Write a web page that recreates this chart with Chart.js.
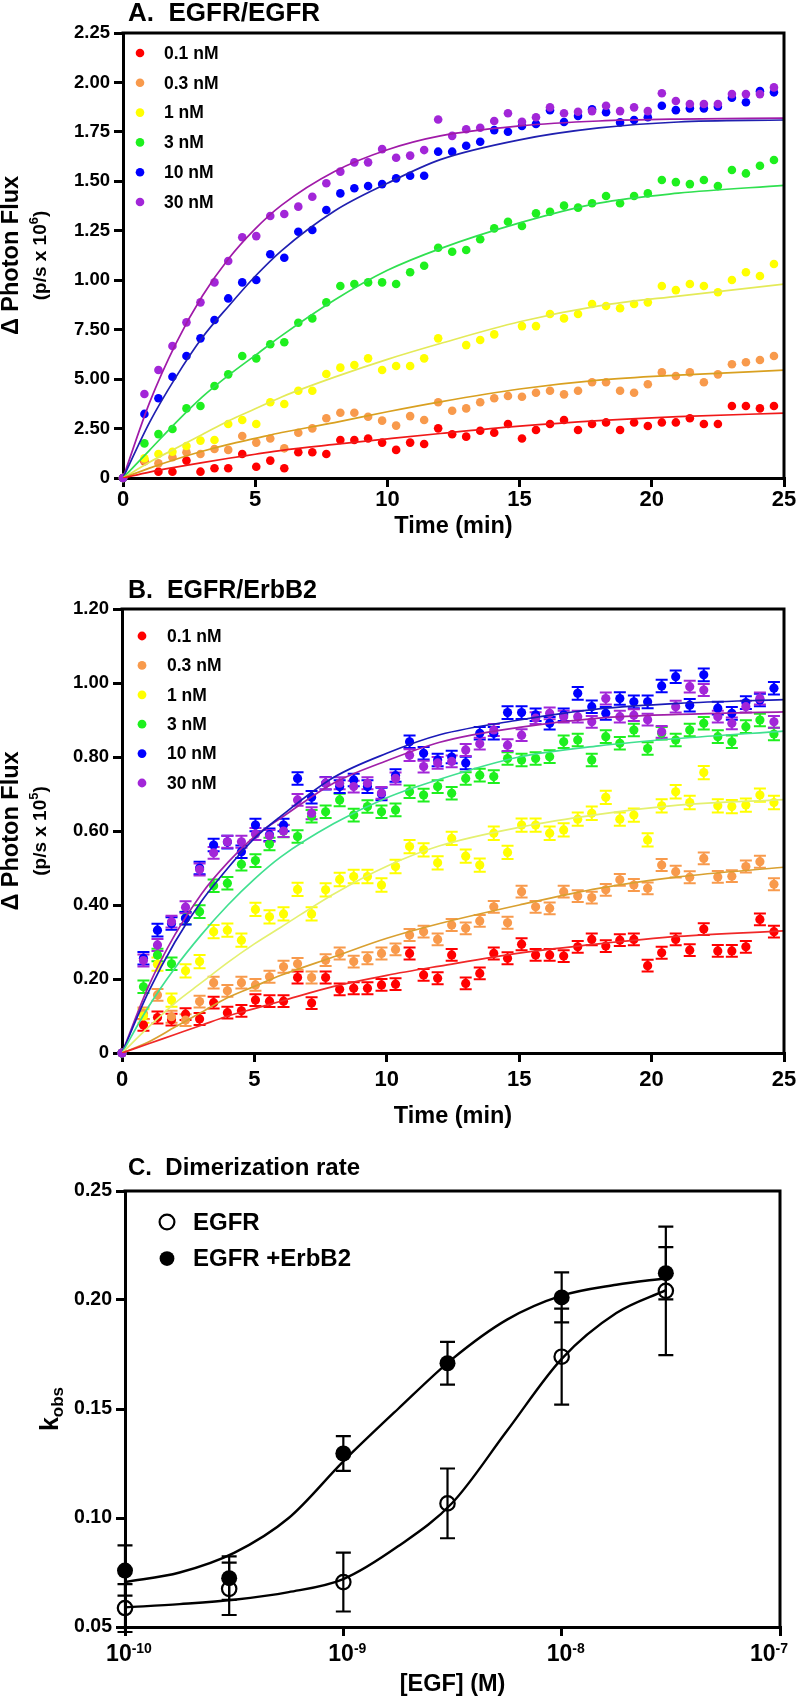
<!DOCTYPE html>
<html>
<head>
<meta charset="utf-8">
<title>EGFR dimerization kinetics</title>
<script src="https://cdn.jsdelivr.net/npm/chart.js@4.4.1/dist/chart.umd.min.js"></script>
<style>
  html, body { margin: 0; padding: 0; background: #fff; }
  body { width: 798px; height: 1698px; position: relative; overflow: hidden; }
  canvas { position: absolute; left: 0; }
</style>
</head>
<body>
<canvas id="panelA" width="798" height="545" style="top:0"></canvas>
<canvas id="panelB" width="798" height="585" style="top:545px"></canvas>
<canvas id="panelC" width="798" height="568" style="top:1130px"></canvas>
<script>
// ============================================
// Data
// ============================================

// sampling times (min) shared by panels A and B, first entry is the t = 0 reading
const timeMin = [0, 0.81, 1.34, 1.87, 2.40, 2.93, 3.46, 3.98, 4.51, 5.04, 5.57, 6.10, 6.63, 7.16, 7.69, 8.22, 8.75,
  9.27, 9.80, 10.33, 10.86, 11.39, 11.92, 12.45, 12.98, 13.51, 14.04, 14.56, 15.09, 15.62, 16.15, 16.68, 17.21,
  17.74, 18.27, 18.80, 19.33, 19.85, 20.38, 20.91, 21.44, 21.97, 22.50, 23.03, 23.56, 24.09, 24.62];

const concLabels = ['0.1 nM', '0.3 nM', '1 nM', '3 nM', '10 nM', '30 nM'];

// A. EGFR/EGFR, photon flux (p/s x 10^6)
const aFlux01 = [0, 0.085, 0.032, 0.032, 0.088, 0.032, 0.049, 0.049, 0.121, 0.057, 0.088, 0.049, 0.13, 0.13, 0.121,
  0.192, 0.192, 0.2, 0.179, 0.142, 0.179, 0.172, 0.251, 0.221, 0.209, 0.239, 0.229, 0.273, 0.2, 0.243, 0.273, 0.293,
  0.243, 0.273, 0.281, 0.243, 0.281, 0.263, 0.281, 0.281, 0.302, 0.273, 0.273, 0.364, 0.364, 0.352, 0.364];
const aFlux03 = [0, 0.088, 0.074, 0.105, 0.13, 0.121, 0.147, 0.142, 0.212, 0.179, 0.2, 0.15, 0.229, 0.251, 0.302,
  0.33, 0.33, 0.31, 0.29, 0.265, 0.313, 0.293, 0.383, 0.34, 0.352, 0.383, 0.403, 0.415, 0.411, 0.431, 0.441, 0.423,
  0.441, 0.484, 0.484, 0.441, 0.431, 0.474, 0.534, 0.516, 0.534, 0.484, 0.524, 0.575, 0.585, 0.597, 0.617];
const aFlux1 = [0, 0.1, 0.121, 0.133, 0.162, 0.189, 0.192, 0.273, 0.293, 0.273, 0.383, 0.374, 0.441, 0.441, 0.526,
  0.558, 0.571, 0.605, 0.546, 0.566, 0.566, 0.605, 0.706, null, 0.672, 0.698, 0.726, null, 0.768, 0.768, 0.829,
  0.807, 0.829, 0.88, 0.87, 0.858, 0.88, 0.888, 0.971, 0.95, 0.981, 0.971, 0.939, 1.001, 1.04, 1.021, 1.082];
const aFlux3 = [0, 0.175, 0.222, 0.248, 0.352, 0.364, 0.465, 0.524, 0.617, 0.605, 0.676, 0.686, 0.785, 0.807, 0.888,
  0.971, 0.981, 0.989, 0.989, 0.981, 1.04, 1.073, 1.164, 1.144, 1.153, 1.207, 1.262, 1.296, 1.274, 1.338, 1.346,
  1.377, 1.367, 1.389, 1.426, 1.389, 1.426, 1.439, 1.507, 1.496, 1.486, 1.507, 1.476, 1.557, 1.54, 1.579, 1.608];
const aFlux10 = [0, 0.324, 0.403, 0.512, 0.617, 0.706, 0.799, 0.908, 0.989, 1.001, 1.131, 1.114, 1.245, 1.254, 1.355,
  1.439, 1.465, 1.476, 1.486, 1.515, 1.528, 1.528, 1.65, 1.65, 1.68, 1.70, 1.759, 1.751, 1.78, 1.79, 1.86, 1.80,
  1.83, 1.864, 1.849, 1.798, 1.81, 1.824, 1.882, 1.86, 1.869, 1.869, 1.877, 1.923, 1.90, 1.956, 1.95];
const aFlux30 = [0, 0.425, 0.546, 0.667, 0.787, 0.888, 0.989, 1.097, 1.217, 1.223, 1.325, 1.335, 1.372, 1.422, 1.49,
  1.549, 1.596, 1.596, 1.663, 1.619, 1.63, 1.658, 1.813, 1.73, 1.763, 1.771, 1.805, 1.844, 1.801, 1.824, 1.874,
  1.844, 1.852, 1.855, 1.882, 1.855, 1.874, 1.855, 1.945, 1.906, 1.891, 1.891, 1.891, 1.941, 1.941, 1.941, 1.975];

// fitted curves at these times
const fitTime = [0, 1, 2, 3, 4, 5, 6, 8, 10, 12, 15, 18, 21, 25];
const aFit01 = [0, 0.03, 0.055, 0.078, 0.10, 0.12, 0.14, 0.17, 0.198, 0.225, 0.262, 0.29, 0.31, 0.328];
const aFit03 = [0, 0.05, 0.095, 0.135, 0.17, 0.20, 0.23, 0.28, 0.335, 0.385, 0.45, 0.495, 0.52, 0.545];
const aFit1 = [0, 0.08, 0.15, 0.22, 0.29, 0.35, 0.41, 0.51, 0.60, 0.68, 0.79, 0.87, 0.92, 0.98];
const aFit3 = [0, 0.14, 0.28, 0.41, 0.52, 0.62, 0.72, 0.90, 1.05, 1.16, 1.29, 1.39, 1.44, 1.48];
const aFit10 = [0, 0.28, 0.51, 0.71, 0.87, 1.02, 1.15, 1.35, 1.49, 1.61, 1.71, 1.77, 1.80, 1.81];
const aFit30 = [0, 0.38, 0.68, 0.92, 1.11, 1.26, 1.38, 1.55, 1.66, 1.73, 1.78, 1.805, 1.815, 1.82];

// the original axis really reads 2.50 / 5.00 / 7.50 below 1.00
const yTicksA = ['0', '2.50', '5.00', '7.50', '1.00', '1.25', '1.50', '1.75', '2.00', '2.25'];

// B. EGFR/ErbB2, photon flux (p/s x 10^5)
const bFlux01 = [0, 0.076, 0.096, 0.09, 0.105, 0.092, 0.136, 0.109, 0.114, 0.143, 0.14, 0.14, 0.204, 0.135, 0.204,
  0.172, 0.175, 0.175, 0.184, 0.186, 0.269, 0.211, 0.202, 0.265, 0.188, 0.215, 0.269, 0.256, 0.294, 0.265, 0.265,
  0.262, 0.287, 0.307, 0.289, 0.305, 0.307, 0.236, 0.271, 0.307, 0.278, 0.335, 0.276, 0.276, 0.287, 0.361, 0.328];
const bFlux03 = [0, 0.107, 0.157, 0.098, 0.089, 0.139, 0.19, 0.168, 0.19, 0.184, 0.206, 0.233, 0.241, 0.204, 0.251,
  0.269, 0.247, 0.256, 0.269, 0.28, 0.319, 0.328, 0.307, 0.346, 0.337, 0.357, 0.395, 0.352, 0.436, 0.395, 0.391,
  0.436, 0.424, 0.42, 0.441, 0.468, 0.454, 0.445, 0.508, 0.49, 0.475, 0.526, 0.476, 0.478, 0.504, 0.517, 0.456];
const bFlux1 = [0, 0.10, 0.24, 0.143, 0.222, 0.247, 0.328, 0.332, 0.305, 0.388, 0.368, 0.376, 0.442, 0.376, 0.441,
  0.469, 0.477, 0.477, 0.454, 0.504, 0.558, 0.549, 0.514, 0.58, 0.532, 0.508, 0.594, 0.542, 0.616, 0.616, 0.594,
  0.603, 0.632, 0.648, 0.691, 0.632, 0.643, 0.576, 0.668, 0.706, 0.677, 0.758, 0.668, 0.666, 0.67, 0.697, 0.677];
const bFlux3 = [0, 0.179, 0.265, 0.241, 0.365, 0.382, 0.452, 0.459, 0.51, 0.52, 0.565, 0.60, 0.585, 0.64, 0.652,
  0.684, 0.643, 0.666, 0.652, 0.657, 0.706, 0.697, 0.72, 0.702, 0.742, 0.751, 0.747, 0.796, 0.792, 0.796, 0.801,
  0.841, 0.846, 0.792, 0.855, 0.837, 0.873, 0.823, 0.864, 0.846, 0.873, 0.891, 0.855, 0.841, 0.882, 0.9, 0.862];
const bFlux10 = [0, 0.256, 0.332, 0.35, 0.364, 0.50, 0.562, 0.57, 0.544, 0.616, 0.59, 0.616, 0.742, 0.691, 0.729,
  0.72, 0.738, 0.72, 0.70, 0.75, 0.841, 0.81, 0.792, 0.80, 0.784, 0.864, 0.864, 0.92, 0.92, 0.914, 0.891, 0.914,
  0.972, 0.936, 0.918, 0.958, 0.949, 0.949, 0.992, 1.017, 0.94, 1.022, 0.932, 0.918, 0.947, 0.954, 0.986];
const bFlux30 = [0, 0.25, 0.292, 0.355, 0.394, 0.496, 0.541, 0.571, 0.571, 0.592, 0.587, 0.60, 0.684, 0.648, 0.729,
  0.729, 0.72, 0.729, 0.703, 0.742, 0.805, 0.774, 0.784, 0.788, 0.819, 0.836, 0.873, 0.832, 0.859, 0.905, 0.918,
  0.909, 0.909, 0.895, 0.958, 0.909, 0.913, 0.901, 0.868, 0.936, 0.99, 0.981, 0.909, 0.891, 0.936, 0.958, 0.895];
// typical SEM of each series
const bError = [0.016, 0.016, 0.018, 0.017, 0.017, 0.016];

const bFit01 = [0, 0.025, 0.05, 0.075, 0.10, 0.12, 0.14, 0.18, 0.21, 0.235, 0.27, 0.295, 0.315, 0.33];
const bFit03 = [0, 0.03, 0.07, 0.11, 0.15, 0.18, 0.21, 0.26, 0.31, 0.35, 0.40, 0.445, 0.476, 0.502];
const bFit1 = [0, 0.07, 0.135, 0.19, 0.245, 0.295, 0.34, 0.43, 0.505, 0.56, 0.61, 0.645, 0.67, 0.685];
const bFit3 = [0, 0.125, 0.23, 0.32, 0.40, 0.47, 0.53, 0.62, 0.69, 0.74, 0.80, 0.83, 0.85, 0.87];
const bFit10 = [0, 0.165, 0.30, 0.41, 0.50, 0.58, 0.64, 0.745, 0.81, 0.86, 0.90, 0.93, 0.945, 0.955];
const bFit30 = [0, 0.18, 0.32, 0.43, 0.515, 0.585, 0.635, 0.73, 0.79, 0.84, 0.88, 0.905, 0.915, 0.922];

const yTicksB = ['0', '0.20', '0.40', '0.60', '0.80', '1.00', '1.20'];

// C. Dimerization rate vs [EGF]
const egfConc = [1e-10, 3e-10, 1e-9, 3e-9, 1e-8, 3e-8];
const kobsEGFR = [0.0587, 0.0675, 0.0706, 0.1067, 0.174, 0.2042];
const errEGFR = [0.011, 0.012, 0.0135, 0.016, 0.022, 0.0295];
const kobsErbB2 = [0.0759, 0.0724, 0.1296, 0.171, 0.2012, 0.2123];
const errErbB2 = [0.0115, 0.010, 0.008, 0.0098, 0.0115, 0.012];

const fitConc = [1e-10, 1.78e-10, 3.16e-10, 5.62e-10, 1e-9, 1.78e-9, 3.16e-9, 5.62e-9, 1e-8, 1.78e-8, 3e-8];
const fitEGFR = [0.059, 0.0605, 0.0625, 0.066, 0.072, 0.087, 0.107, 0.140, 0.173, 0.194, 0.2045];
const fitErbB2 = [0.0706, 0.075, 0.084, 0.10, 0.126, 0.150, 0.173, 0.191, 0.202, 0.207, 0.210];

const yTicksC = ['0.05', '0.10', '0.15', '0.20', '0.25'];
const xTickPowers = [-10, -9, -8, -7];

// ============================================
// Styling
// ============================================
const FONT = "'Liberation Sans', Arial, Helvetica, sans-serif";
const bold = size => `bold ${size}px ${FONT}`;

const dotColors = ['#ff0000', '#f89a4c', '#ffff00', '#1ef01e', '#0000ff', '#a226d8'];
const lineColorsA = ['#f01818', '#d9a020', '#e4ea58', '#30e050', '#2020b0', '#a01aa8'];
const lineColorsB = ['#f02828', '#d9a030', '#e4f070', '#40e090', '#1a1ab8', '#a020a8'];

Chart.defaults.font.family = FONT;
Chart.defaults.color = '#000';

const pts = (xs, ys) => xs.map((x, i) => ({ x, y: ys[i] }));

const axisGrid = { drawOnChartArea: false, drawTicks: true, tickLength: 9, tickWidth: 3, tickColor: '#000', color: '#000', lineWidth: 3 };
const axisBorder = { display: true, color: '#000', width: 3 };

// text laid out left to right with mixed fonts (for superscripts), centred on cx
function richText(ctx, parts, cx, y, maxRight) {
    let w = 0;
    parts.forEach(p => { ctx.font = p.font; p.w = ctx.measureText(p.t).width; w += p.w; });
    let x = cx - w / 2;
    if (maxRight != null) x = Math.min(x, maxRight - w);
    ctx.textAlign = 'left';
    parts.forEach(p => {
        ctx.font = p.font;
        ctx.fillText(p.t, x, y + (p.dy || 0));
        x += p.w;
    });
}

/**
 * Frame, titles, in-plot legend and error bars, the parts Chart.js can't place like the figure does
 */
function decor(o) {
    return {
        id: 'decor',
        beforeDatasetsDraw(chart) {
            const { ctx } = chart;
            const yScale = chart.scales.y;
            chart.data.datasets.forEach((ds, di) => {
                if (ds.errorBars == null) return;
                const meta = chart.getDatasetMeta(di);
                ctx.save();
                ctx.strokeStyle = ds.errorColor;
                ctx.lineWidth = o.barLine;
                ctx.beginPath();
                meta.data.forEach((el, i) => {
                    const v = ds.data[i].y;
                    if (v == null) return;
                    const e = Array.isArray(ds.errorBars) ? ds.errorBars[i] : ds.errorBars;
                    if (!e || ds.data[i].x === 0) return;
                    const y1 = yScale.getPixelForValue(v + e);
                    const y2 = yScale.getPixelForValue(v - e);
                    const c = o.capHalf;
                    ctx.moveTo(el.x, y1); ctx.lineTo(el.x, y2);
                    ctx.moveTo(el.x - c, y1); ctx.lineTo(el.x + c, y1);
                    ctx.moveTo(el.x - c, y2); ctx.lineTo(el.x + c, y2);
                });
                ctx.stroke();
                ctx.restore();
            });
        },
        afterDraw(chart) {
            const { ctx, chartArea: a } = chart;
            const midX = (a.left + a.right) / 2;
            const midY = (a.top + a.bottom) / 2;
            ctx.save();

            // top and right sides of the box
            ctx.strokeStyle = '#000';
            ctx.lineWidth = 3;
            ctx.beginPath();
            ctx.moveTo(a.left - 1.5, a.top);
            ctx.lineTo(a.right, a.top);
            ctx.lineTo(a.right, a.bottom);
            ctx.stroke();

            ctx.fillStyle = '#000';
            ctx.textBaseline = 'alphabetic';
            ctx.textAlign = 'left';
            ctx.font = o.titleFont;
            ctx.fillText(o.title, 128, o.titleY);

            // legend inside the plot
            o.legend.forEach((it, i) => {
                const y = o.legendY + i * o.legendGap;
                ctx.beginPath();
                ctx.arc(o.legendX, y, o.legendR, 0, 2 * Math.PI);
                if (it.open) {
                    ctx.lineWidth = 2.2;
                    ctx.strokeStyle = '#000';
                    ctx.stroke();
                } else {
                    ctx.fillStyle = it.color;
                    ctx.fill();
                }
                ctx.fillStyle = '#000';
                ctx.font = o.legendFont;
                ctx.textBaseline = 'middle';
                ctx.textAlign = 'left';
                ctx.fillText(it.label, o.legendTextX, y + 1);
            });

            ctx.textBaseline = 'alphabetic';
            ctx.textAlign = 'center';
            ctx.font = bold(23.5);
            ctx.fillText(o.xTitle, midX, o.xTitleY);

            o.yTitles.forEach(t => {
                ctx.save();
                ctx.translate(t.x, midY + (t.dy || 0));
                ctx.rotate(-Math.PI / 2);
                richText(ctx, t.parts, 0, 0);
                ctx.restore();
            });

            // 10^n labels under the log axis, the last one pulled in to stay on the page
            if (o.logLabels) {
                const xs = chart.scales.x;
                xTickPowers.forEach(p => {
                    richText(ctx, [
                        { t: '10', font: bold(23) },
                        { t: String(p), font: bold(14), dy: -8 }
                    ], xs.getPixelForValue(Math.pow(10, p)) + 4, o.logLabelY, chart.width - 10);
                });
            }
            ctx.restore();
        }
    };
}

function fluxTitle(exp) {
    return [
        { x: 18, parts: [{ t: '\u0394 Photon Flux', font: bold(23.5) }] },
        { x: 46, parts: [{ t: '(p/s x 10', font: bold(19) }, { t: exp, font: bold(13), dy: -8 }, { t: ')', font: bold(19) }] }
    ];
}

/**
 * Time-course panel (A and B)
 */
function kineticChart(id, o) {
    const datasets = [];
    o.fits.forEach((f, i) => datasets.push({
        data: pts(fitTime, f),
        showLine: true,
        borderColor: o.lineColors[i],
        borderWidth: 1.7,
        pointRadius: 0,
        fill: false,
        cubicInterpolationMode: 'monotone',
        order: 0
    }));
    o.flux.forEach((f, i) => datasets.push({
        data: pts(timeMin, f),
        backgroundColor: dotColors[i],
        borderWidth: 0,
        pointRadius: o.dotR,
        errorBars: o.err ? o.err[i] : null,
        errorColor: dotColors[i],
        clip: false,
        order: 10 - i
    }));

    return new Chart(document.getElementById(id), {
        type: 'scatter',
        data: { datasets },
        options: {
            responsive: false,
            animation: false,
            events: [],
            layout: { padding: o.pad },
            plugins: { legend: { display: false }, tooltip: { enabled: false } },
            scales: {
                x: {
                    type: 'linear', min: 0, max: 25,
                    ticks: { stepSize: 5, font: { size: 22, weight: 'bold' }, padding: o.xPad, color: '#000' },
                    grid: axisGrid, border: axisBorder,
                    afterFit: s => { s.height = o.xH; s.paddingLeft = 0; s.paddingRight = 0; }
                },
                y: {
                    min: 0, max: o.yMax,
                    ticks: { stepSize: o.yStep, callback: (v, i) => o.yTicks[i], font: { size: 18.5, weight: 'bold' }, padding: 4, color: '#000' },
                    grid: axisGrid, border: axisBorder,
                    afterFit: s => { s.width = o.yW; s.paddingTop = 0; s.paddingBottom = 0; }
                }
            }
        },
        plugins: [decor(o.deco)]
    });
}

// ============================================
// Panels
// ============================================
kineticChart('panelA', {
    flux: [aFlux01, aFlux03, aFlux1, aFlux3, aFlux10, aFlux30],
    fits: [aFit01, aFit03, aFit1, aFit3, aFit10, aFit30],
    lineColors: lineColorsA,
    yMax: 2.25, yStep: 0.25, yTicks: yTicksA, dotR: 4.3,
    pad: { left: 0, right: 14, top: 33, bottom: 0 }, yW: 123, xH: 67, xPad: 0,
    deco: {
        title: 'A.  EGFR/EGFR', titleFont: bold(26), titleY: 21,
        legend: concLabels.map((label, i) => ({ label, color: dotColors[i] })),
        legendX: 140, legendTextX: 164, legendY: 53, legendGap: 29.8, legendR: 4.3, legendFont: bold(17.5),
        xTitle: 'Time (min)', xTitleY: 533,
        yTitles: fluxTitle('6')
    }
});

kineticChart('panelB', {
    flux: [bFlux01, bFlux03, bFlux1, bFlux3, bFlux10, bFlux30],
    fits: [bFit01, bFit03, bFit1, bFit3, bFit10, bFit30],
    lineColors: lineColorsB, err: bError,
    yMax: 1.2, yStep: 0.2, yTicks: yTicksB, dotR: 4.6,
    pad: { left: 0, right: 14, top: 64, bottom: 0 }, yW: 122, xH: 77, xPad: 5,
    deco: {
        title: 'B.  EGFR/ErbB2', titleFont: bold(25), titleY: 53,
        legend: concLabels.map((label, i) => ({ label, color: dotColors[i] })),
        legendX: 142, legendTextX: 167, legendY: 91, legendGap: 29.4, legendR: 4.4, legendFont: bold(17.5),
        xTitle: 'Time (min)', xTitleY: 578,
        yTitles: fluxTitle('5'),
        barLine: 2, capHalf: 6
    }
});

new Chart(document.getElementById('panelC'), {
    type: 'scatter',
    data: {
        datasets: [
            { data: pts(fitConc, fitEGFR), showLine: true, borderColor: '#000', borderWidth: 2.4, pointRadius: 0,
              fill: false, cubicInterpolationMode: 'monotone', order: 3 },
            { data: pts(fitConc, fitErbB2), showLine: true, borderColor: '#000', borderWidth: 2.4, pointRadius: 0,
              fill: false, cubicInterpolationMode: 'monotone', order: 3 },
            { data: pts(egfConc, kobsEGFR), pointRadius: 7.2, borderWidth: 2.2, borderColor: '#000',
              backgroundColor: 'rgba(0,0,0,0)', errorBars: errEGFR, errorColor: '#000', clip: false, order: 2 },
            { data: pts(egfConc, kobsErbB2), pointRadius: 8, borderWidth: 0, backgroundColor: '#000',
              errorBars: errErbB2, errorColor: '#000', clip: false, order: 1 }
        ]
    },
    options: {
        responsive: false,
        animation: false,
        events: [],
        layout: { padding: { left: 0, right: 18, top: 61, bottom: 0 } },
        plugins: { legend: { display: false }, tooltip: { enabled: false } },
        scales: {
            x: {
                type: 'logarithmic', min: 1e-10, max: 1e-7,
                afterBuildTicks: s => { s.ticks = xTickPowers.map(p => ({ value: Math.pow(10, p) })); },
                ticks: { callback: () => '' },
                grid: axisGrid, border: axisBorder,
                afterFit: s => { s.height = 71; s.paddingLeft = 0; s.paddingRight = 0; }
            },
            y: {
                min: 0.05, max: 0.25,
                ticks: { stepSize: 0.05, callback: (v, i) => yTicksC[i], font: { size: 19.5, weight: 'bold' }, padding: 4, color: '#000' },
                grid: axisGrid, border: axisBorder,
                afterFit: s => { s.width = 125; s.paddingTop = 0; s.paddingBottom = 0; }
            }
        }
    },
    plugins: [decor({
        title: 'C.  Dimerization rate', titleFont: bold(24), titleY: 45,
        legend: [{ label: 'EGFR', open: true }, { label: 'EGFR +ErbB2', color: '#000' }],
        legendX: 167, legendTextX: 193, legendY: 92, legendGap: 36.6, legendR: 7.4, legendFont: bold(24),
        xTitle: '[EGF] (M)', xTitleY: 561,
        yTitles: [{ x: 58, parts: [{ t: 'k', font: bold(25) }, { t: 'obs', font: bold(17), dy: 5 }] }],
        logLabels: true, logLabelY: 531,
        barLine: 2.2, capHalf: 7.5
    })]
});
</script>
</body>
</html>
